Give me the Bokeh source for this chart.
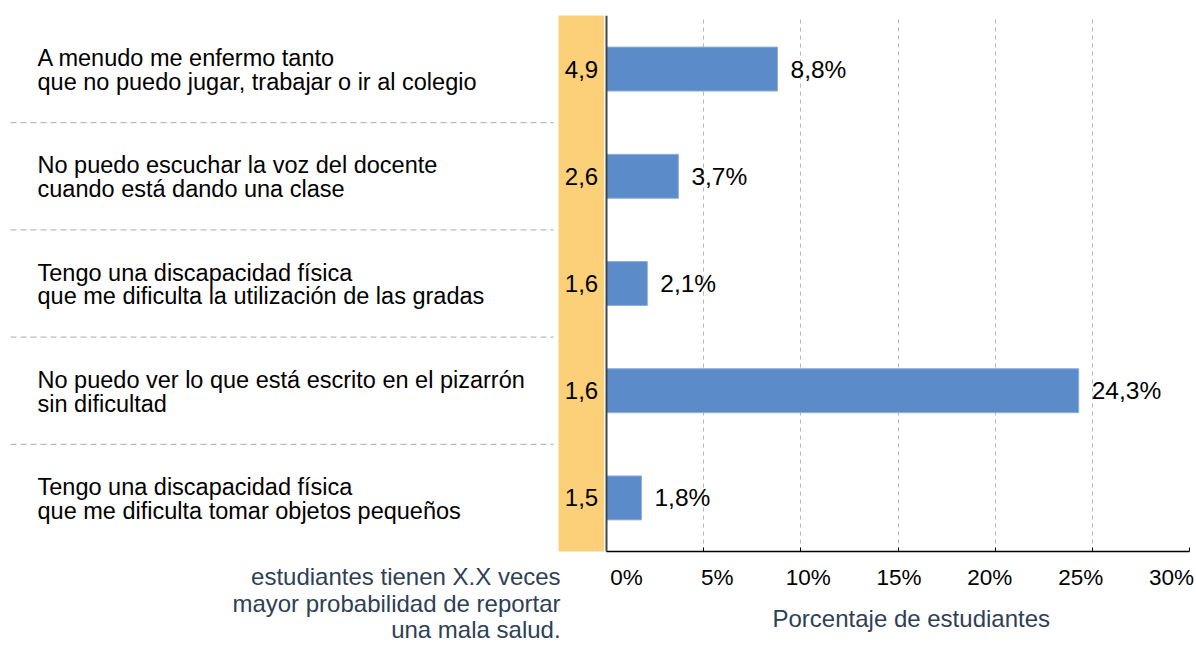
from bokeh.plotting import figure
from bokeh.layouts import row
from bokeh.models import (Range1d, LinearAxis, FixedTicker, ColumnDataSource, Span,
                          PrintfTickFormatter, Title)
from bokeh.core.properties import value
from bokeh.embed import file_html
from bokeh.resources import INLINE

# ---------------- data ----------------
categories = [
    "A menudo me enfermo tanto\nque no puedo jugar, trabajar o ir al colegio",
    "No puedo escuchar la voz del docente\ncuando está dando una clase",
    "Tengo una discapacidad física\nque me dificulta la utilización de las gradas",
    "No puedo ver lo que está escrito en el pizarrón\nsin dificultad",
    "Tengo una discapacidad física\nque me dificulta tomar objetos pequeños",
]
percent = [8.8, 3.7, 2.1, 24.3, 1.8]
ratio = [4.9, 2.6, 1.6, 1.6, 1.5]
tick_values = [0, 5, 10, 15, 20, 25, 30]
note_lines = [
    "estudiantes tienen X.X veces",
    "mayor probabilidad de reportar",
    "una mala salud.",
]
x_title = "Porcentaje de estudiantes"

FONT = value("Liberation Sans")
BAR = "#5B8CC9"
ORANGE = "#FCD079"
NAVY = "#2E3F56"

n = len(categories)
ypos = [n - 1 - i for i in range(n)]
src = ColumnDataSource(dict(
    y=ypos,
    pct=percent,
    pct_lbl=[f"{v:.1f}%".replace(".", ",") for v in percent],
    ratio_lbl=[f"{v:.1f}".replace(".", ",") for v in ratio],
    cat=categories,
))
note_src = ColumnDataSource(dict(
    y=[-0.733, -0.981, -1.228],
    text=note_lines,
))

H = 644
ROW_PX = 107.2
TOP = 15
PX_UNIT = 19.43

# ---------------- left panel: labels, ratio column, note ----------------
LW = 604
left = figure(width=LW, height=H, output_backend="svg", toolbar_location=None,
              x_range=Range1d(-LW / PX_UNIT, 0),
              y_range=Range1d(n - 0.5 - (H - TOP) / ROW_PX, n - 0.5 + TOP / ROW_PX),
              x_axis_location=None, y_axis_location=None,
              min_border_left=0, min_border_right=0, min_border_top=0, min_border_bottom=0)
left.frame_align = False
left.outline_line_color = None
left.xgrid.visible = False
left.ygrid.visible = False

left.quad(left=-2.367, right=0, bottom=-0.5, top=n - 0.5, fill_color=ORANGE, line_color=None)
left.segment(x0=-30.57, x1=-2.62, y0=[i + 0.5 for i in range(n - 1)],
             y1=[i + 0.5 for i in range(n - 1)], line_color="#aaaaaa",
             line_dash="6 4", line_width=1)
left.text(x=-1.184, y="y", text="ratio_lbl", source=src, text_align="center",
          text_baseline="middle", text_font=FONT, text_font_size="24px", text_color="black")
left.text(x=-29.18, y="y", text="cat", source=src, text_align="left", y_offset=1,
          text_baseline="middle", text_font=FONT, text_font_size="23.5px",
          text_line_height=0.92, text_color="black")
left.text(x=-2.26, y="y", text="text", source=note_src, text_align="right",
          text_baseline="middle", text_font=FONT, text_font_size="24px", text_color=NAVY)

# ---------------- right panel: bars ----------------
p = figure(width=591, height=H, output_backend="svg", toolbar_location=None,
           x_range=Range1d(-2 / PX_UNIT, 30), y_range=Range1d(-0.5, n - 0.5),
           min_border_left=0, min_border_right=6, min_border_top=TOP,
           min_border_bottom=H - TOP - int(round(n * ROW_PX)))
p.frame_align = False
p.outline_line_color = None
p.yaxis.visible = False
p.ygrid.visible = False

p.xgrid.ticker = FixedTicker(ticks=tick_values[1:])
p.xgrid.grid_line_color = "#b8b8b8"
p.xgrid.grid_line_dash = "4 4"
p.xgrid.grid_line_width = 1

ax = p.xaxis[0]
ax.ticker = FixedTicker(ticks=tick_values)
ax.bounds = (0, 30)
ax.axis_line_color = "black"
ax.axis_line_width = 1.5
ax.major_tick_line_color = "black"
ax.major_tick_in = 4
ax.major_tick_out = 0
ax.minor_tick_line_color = None
ax.major_label_text_color = None
ax.major_label_text_font_size = "1px"
ax.major_label_standoff = 0

# printed tick labels (placed as in the reference)
p.extra_x_ranges = {"lbl": Range1d(-1.211, 30.991)}
lax = LinearAxis(x_range_name="lbl", ticker=FixedTicker(ticks=tick_values),
                 formatter=PrintfTickFormatter(format="%d%%"))
lax.axis_line_color = None
lax.major_tick_line_color = None
lax.minor_tick_line_color = None
lax.major_label_standoff = 7
lax.major_label_text_font = "Liberation Sans"
lax.major_label_text_font_size = "22.5px"
lax.major_label_text_color = "black"
p.add_layout(lax, "below")

p.add_layout(Title(text=x_title, align="left", offset=168, standoff=21,
                   text_font="Liberation Sans", text_font_size="24px",
                   text_font_style="normal", text_color=NAVY), "below")

p.hbar(y="y", left=0, right="pct", height=0.41, source=src,
       fill_color=BAR, line_color="#8FB0DD", line_width=1)
p.text(x="pct", y="y", text="pct_lbl", source=src, x_offset=13,
       text_align="left", text_baseline="middle", text_font=FONT,
       text_font_size="24.5px", text_color="black")
p.add_layout(Span(location=0, dimension="height", line_color="#444444", line_width=2))

layout = row(left, p)
open("out.html", "w").write(file_html(layout, INLINE))
